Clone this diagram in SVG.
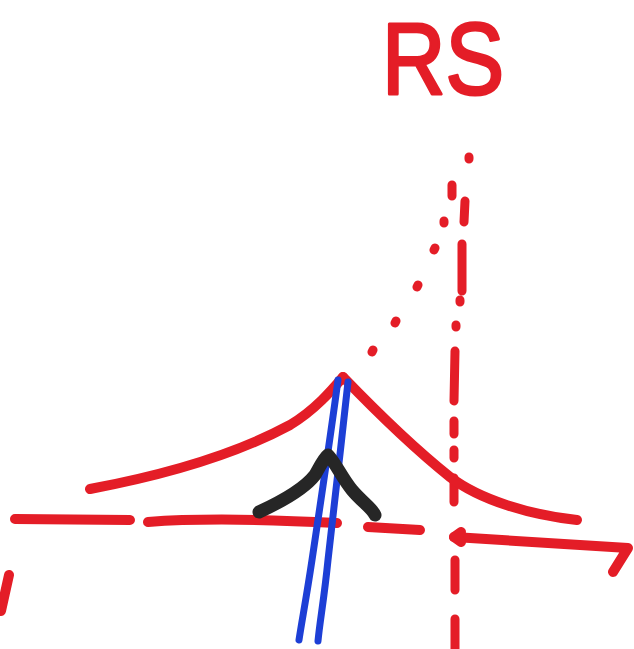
<svg xmlns="http://www.w3.org/2000/svg" width="634" height="649" viewBox="0 0 634 649">
<style>
.r{fill:none;stroke:#e41d27;stroke-width:10;stroke-linecap:round;stroke-linejoin:round}
.d{fill:none;stroke:#e41d27;stroke-width:9;stroke-linecap:round}
.b{fill:none;stroke:#1d3fd6;stroke-width:7;stroke-linecap:round;stroke-linejoin:round}
.k{fill:none;stroke:#262626;stroke-width:13;stroke-linecap:round;stroke-linejoin:round}
.t{fill:#e41d27;stroke:#e41d27;stroke-width:3;stroke-linejoin:round;font-family:"Liberation Sans",Arial,sans-serif}
</style>
<rect width="634" height="649" fill="#ffffff"/>
<g id="label-rs">
<text class="t" x="382" y="94" font-size="102" textLength="122" lengthAdjust="spacingAndGlyphs">RS</text>
</g>
<g id="rs-line">
<path class="d" d="M469,157 L469,159 M465,201 L464,222 M462,244 L462,291 M460,300 L460,302 M456,325 L456,327 M455,351 L454,401 M454,421 L454,434 M454,450 L454,458 M454,478 L454,502 M455,560 L455,590 M455,619 L455,649"/>
</g>
<g id="extrapolation">
<path class="d" d="M372,352 L373,350 M395,323 L396,321 M417,287 L418,285 M434,250 L435,248 M444,223 L444,221 M452,185 L452,196"/>
</g>
<g id="axis">
<path class="r" d="M15,519 L130,520"/>
<path class="r" d="M148,522 C200,518 280,520 337,523"/>
<path class="r" d="M368,527 L420,530"/>
<path class="r" d="M454,537 L628,548 L613,572"/>
<path class="r" d="M461,532 L454,537 L461,542"/>
<path class="r" d="M9,575 L1,611"/>
</g>
<g id="peak">
<path class="r" d="M90,489 C170,474 240,452 290,425 C315,410 332,390 343,377"/>
<path class="r" d="M343,377 C370,405 410,445 450,477 C480,500 530,515 577,520"/>
</g>
<g id="blue-lines">
<path class="b" d="M338,380 C330,440 318,520 312,560 C306,600 302,620 299,640"/>
<path class="b" d="M348,382 C342,440 332,520 328,560 C324,600 320,620 318,641"/>
</g>
<g id="black-v">
<path class="k" d="M259,512 C285,500 305,488 315,475 C320,466 324,458 328,455 C335,462 342,478 352,490 C362,502 372,508 375,515"/>
</g>
</svg>
